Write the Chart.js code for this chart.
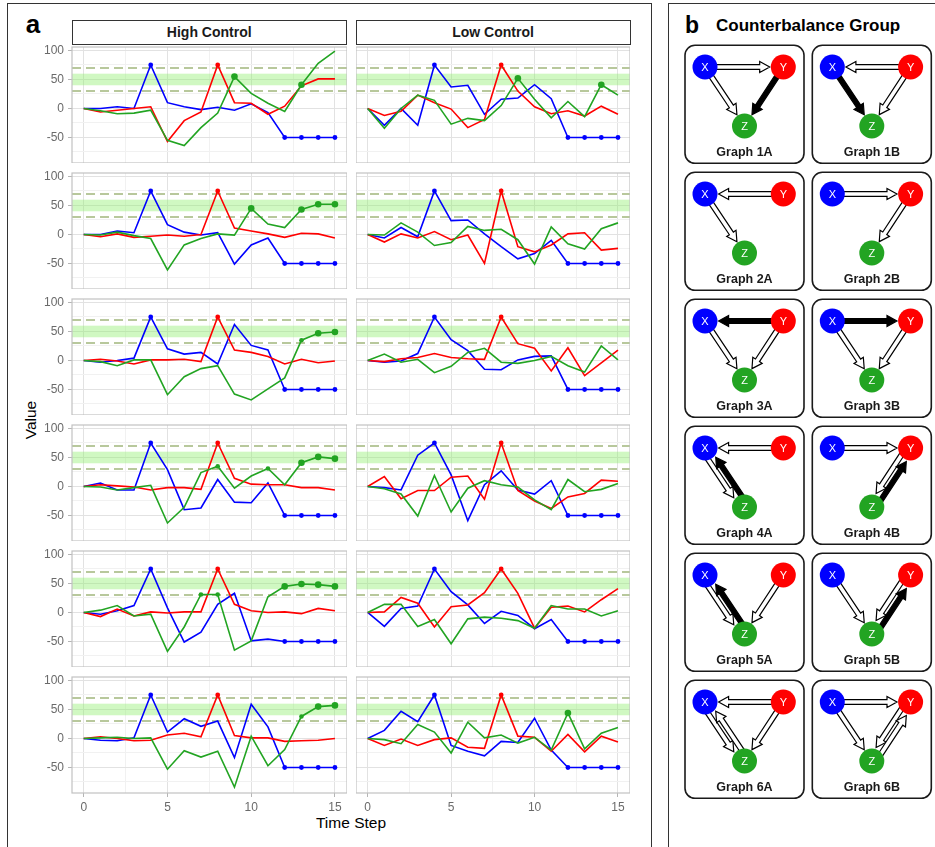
<!DOCTYPE html>
<html><head><meta charset="utf-8">
<script src="https://cdn.jsdelivr.net/npm/chart.js@4.4.1/dist/chart.umd.min.js"></script>
<style>
html,body{margin:0;padding:0;background:#fff;}
body{width:935px;height:847px;overflow:hidden;position:relative;font-family:'Liberation Sans',Arial,Helvetica,sans-serif;}
.box{position:absolute;border:1.6px solid #333;box-sizing:border-box;}
.strip{position:absolute;border:1px solid #333;box-sizing:border-box;background:#fff;font-weight:bold;font-size:14px;text-align:center;line-height:23px;color:#1a1a1a;}
.txt{position:absolute;white-space:nowrap;color:#000;}
canvas{position:absolute;}
</style></head>
<body>
<div class="box" style="left:7px;top:2.5px;width:645px;height:900px;"></div>
<div class="box" style="left:667.5px;top:2.5px;width:300px;height:900px;"></div>
<div class="txt" style="left:25.7px;top:11.3px;font-size:26px;line-height:26px;font-weight:bold;">a</div>
<div class="txt" style="left:685px;top:13.8px;font-size:23px;line-height:23px;font-weight:bold;">b</div>
<div class="txt" style="left:716px;top:16.6px;font-size:17px;line-height:17px;font-weight:bold;">Counterbalance Group</div>
<div class="strip" style="left:71.5px;top:19.5px;width:275.5px;height:25px;">High Control</div>
<div class="strip" style="left:355.5px;top:19.5px;width:275px;height:25px;">Low Control</div>
<div class="txt" style="left:-19px;top:410px;width:100px;height:20px;line-height:20px;text-align:center;font-size:15.5px;transform:rotate(-90deg);">Value</div>
<div class="txt" style="left:251px;top:813.9px;width:200px;line-height:18px;text-align:center;font-size:15.5px;">Time Step</div>
<script>
// ---------------- data ----------------
const steps = [0,1,2,3,4,5,6,7,8,9,10,11,12,13,14,15];
const conditions = ['High Control','Low Control'];
const yTickValues = [-75,-50,-25,0,25,50,75,100];
const xTickValues = [0,2.5,5,7.5,10,12.5,15];
const bandRange = [40,60];
const dashLevels = [30,70];

// High Control (rows 1-6): X = blue, Y = red, Z = green
const hc1_X = [0,0,3,0,75,10,3,-2,2,-3,8,-7,-50,-50,-50,-50];
const hc1_Y = [0,-6,-3,0,3,-57,-21,-6,75,10,9,-10,4,39,51,51];
const hc1_Z = [0,-4,-9,-8,-3,-55,-64,-33,-8,55,26,9,-5,41,78,99];
const hc2_X = [0,0,6,3,75,17,4,-1,3,-51,-18,-6,-50,-50,-50,-50];
const hc2_Y = [0,-4,1,-5,-3,-1,-3,0,75,11,6,1,-5,2,1,-6];
const hc2_Z = [0,-1,4,-2,-7,-61,-18,-7,1,-1,45,18,12,43,52,52];
const hc3_X = [0,-3,0,4,75,20,11,14,-6,62,26,18,-50,-50,-50,-50];
const hc3_Y = [0,2,-1,-6,1,1,2,-2,75,18,14,7,-6,2,-4,-1];
const hc3_Z = [0,-2,-9,1,1,-59,-28,-14,-9,-58,-68,-49,-30,35,47,49];
const hc4_X = [0,6,-6,-6,75,29,-40,-37,12,-27,-28,6,-50,-50,-50,-50];
const hc4_Y = [0,3,1,-1,-6,-2,-2,-5,75,14,4,3,3,-2,-2,-6];
const hc4_Z = [0,-1,-6,-2,2,-63,-36,24,35,-3,18,31,3,41,51,48];
const hc5_X = [0,-3,3,12,75,8,-51,-34,14,33,-49,-46,-50,-50,-50,-50];
const hc5_Y = [0,-7,6,-6,1,-1,1,1,75,14,3,0,1,-2,7,3];
const hc5_Z = [0,4,12,-6,-3,-67,-25,31,31,-65,-49,27,45,49,48,45];
const hc6_X = [0,-3,-4,1,75,11,34,21,30,-33,59,20,-50,-50,-50,-50];
const hc6_Y = [0,3,0,-4,-3,6,9,3,75,5,1,1,-5,-4,-3,0];
const hc6_Z = [0,1,2,0,1,-53,-21,-32,-22,-84,4,-47,-19,38,55,57];

// Low Control (rows 1-6)
const lc1_X = [0,-29,0,-29,75,37,40,-10,16,18,41,17,-50,-50,-50,-50];
const lc1_Y = [0,-12,-5,23,10,-1,-33,-19,75,30,3,-9,-4,-13,4,-10];
const lc1_Z = [0,-34,0,23,14,-27,-17,-21,5,52,16,-16,12,-14,41,23];
const lc2_X = [0,-6,12,-4,75,24,25,1,-21,-42,-33,-10,-50,-50,-50,-50];
const lc2_Y = [0,-13,1,-6,5,-9,-1,-50,75,-21,-30,-18,1,3,-27,-24];
const lc2_Z = [0,-1,20,4,-19,-14,14,7,9,-9,-51,13,-16,-25,10,20];
const lc3_X = [0,-3,-1,12,75,36,17,-15,-16,1,7,8,-50,-50,-50,-50];
const lc3_Y = [0,-2,3,5,12,5,3,2,75,29,21,-18,22,-26,-4,18];
const lc3_Z = [0,11,-3,2,-21,-10,14,21,-3,-5,0,7,-9,-20,25,1];
const lc4_X = [0,-2,-6,54,75,20,-59,3,27,-6,-13,10,-50,-50,-50,-50];
const lc4_Y = [0,17,-21,-7,-7,16,18,-22,75,-7,-25,-38,-18,-12,11,9];
const lc4_Z = [0,-4,-13,-51,19,-44,-3,10,3,-1,-23,-40,12,-9,-5,5];
const lc5_X = [0,-24,7,11,75,36,13,-19,2,-5,-28,-12,-50,-50,-50,-50];
const lc5_Y = [0,1,26,16,-25,10,13,34,75,33,-27,9,11,1,22,41];
const lc5_Z = [0,14,14,-24,-12,-54,-11,-8,-10,-14,-27,12,6,6,-6,3];
const lc6_X = [0,14,47,29,75,-12,-22,-30,-5,-7,35,-20,-50,-50,-50,-50];
const lc6_Y = [0,-12,-1,-12,-2,1,-15,-17,75,4,2,-22,7,-23,4,-6];
const lc6_Z = [0,-2,-9,24,11,-25,28,1,6,-8,2,-20,44,-18,9,19];

// Panel b: counterbalance graphs  [from, to, kind]  kind: 'o' = open arrow, 's' = solid arrow
const graphNames = ['Graph 1A','Graph 1B','Graph 2A','Graph 2B','Graph 3A','Graph 3B',
                    'Graph 4A','Graph 4B','Graph 5A','Graph 5B','Graph 6A','Graph 6B'];
const graphEdges = [
  [['X','Y','o'],['X','Z','o'],['Y','Z','s']],
  [['Y','X','o'],['X','Z','s'],['Y','Z','o']],
  [['Y','X','o'],['X','Z','o']],
  [['X','Y','o'],['Y','Z','o']],
  [['Y','X','s'],['X','Z','o'],['Y','Z','o']],
  [['X','Y','s'],['X','Z','o'],['Y','Z','o']],
  [['Y','X','o'],['X','Z','o'],['Z','X','s']],
  [['X','Y','o'],['Y','Z','o'],['Z','Y','s']],
  [['X','Z','o'],['Z','X','s'],['Y','Z','o']],
  [['X','Z','o'],['Y','Z','o'],['Z','Y','s']],
  [['Y','X','o'],['X','Z','o'],['Z','X','o'],['Y','Z','o']],
  [['X','Y','o'],['X','Z','o'],['Y','Z','o'],['Z','Y','o']]
];
const nodeNames = ['X','Y','Z'];

// ---------------- styling / layout ----------------
Chart.defaults.font.family = "'Liberation Sans', Arial, Helvetica, sans-serif";
const COL = {X:'#0000ff', Y:'#ff0000', Z:'#22a422'};
const NODECOL = {X:'#0000ff', Y:'#ff0000', Z:'#22a422'};
const majorGrid = '#e2e2e2', minorGrid = '#f1f1f1', tickCol = '#b5b5b5', frameCol = '#c2c2c2';

const panels = [
  [hc1_X,hc1_Y,hc1_Z],[hc2_X,hc2_Y,hc2_Z],[hc3_X,hc3_Y,hc3_Z],[hc4_X,hc4_Y,hc4_Z],[hc5_X,hc5_Y,hc5_Z],[hc6_X,hc6_Y,hc6_Z],
  [lc1_X,lc1_Y,lc1_Z],[lc2_X,lc2_Y,lc2_Z],[lc3_X,lc3_Y,lc3_Z],[lc4_X,lc4_Y,lc4_Z],[lc5_X,lc5_Y,lc5_Z],[lc6_X,lc6_Y,lc6_Z]
];

const panelDeco = {
  id: 'panelDeco',
  beforeDatasetsDraw(chart) {
    const {ctx, chartArea: a, scales: {y}} = chart;
    ctx.save();
    ctx.beginPath(); ctx.rect(a.left, a.top, a.width, a.height); ctx.clip();
    const y1 = y.getPixelForValue(bandRange[1]), y0 = y.getPixelForValue(bandRange[0]);
    ctx.fillStyle = 'rgba(144,238,110,0.42)';
    ctx.fillRect(a.left, y1, a.width, y0 - y1);
    ctx.strokeStyle = 'rgba(125,155,75,0.55)';
    ctx.lineWidth = 2;
    ctx.setLineDash([9, 5]);
    dashLevels.forEach(v => {
      const py = y.getPixelForValue(v);
      ctx.beginPath(); ctx.moveTo(a.left, py); ctx.lineTo(a.right, py); ctx.stroke();
    });
    ctx.restore();
  },
  afterDraw(chart) {
    const {ctx, chartArea: a} = chart;
    ctx.save();
    ctx.strokeStyle = frameCol; ctx.lineWidth = 1.2;
    ctx.strokeRect(a.left, a.top, a.width, a.height);
    ctx.restore();
  }
};

function rX(c) { const i = c.dataIndex; return (i === 4 || i >= 12) ? 2.4 : 0; }
function rY(c) { return c.dataIndex === 8 ? 2.4 : 0; }
function rZ(c) { const v = c.raw ? c.raw.y : 0; return (v >= 40 && v <= 60) ? 3.3 : ((v >= 30 && v <= 70) ? 2.3 : 0); }

function series(label, vals, color, rf) {
  return {
    label, data: steps.map((s, i) => ({x: s, y: vals[i]})),
    borderColor: color, backgroundColor: color, borderWidth: 1.6,
    pointRadius: rf, pointHoverRadius: rf, pointBorderWidth: 0, tension: 0
  };
}

const PADTOP = 8;
panels.forEach((p, k) => {
  const col = k < 6 ? 0 : 1, row = k % 6;
  const left = col === 0, bottom = row === 5;
  const cv = document.createElement('canvas');
  const cl = left ? 22 : 356, cw = left ? 325 : 274;
  const top = 47 + row * 126 - PADTOP;
  const ch = 116 + PADTOP + (bottom ? 26 : 0);
  cv.width = cw; cv.height = ch;
  cv.style.left = cl + 'px'; cv.style.top = top + 'px';
  cv.style.width = cw + 'px'; cv.style.height = ch + 'px';
  document.body.appendChild(cv);
  const isMajorX = c => c.tick && Math.abs(c.tick.value % 5) < 1e-9;
  const isMajorY = c => c.tick && Math.abs(c.tick.value % 50) < 1e-9;
  new Chart(cv, {
    type: 'line',
    data: { datasets: [
      series('Z', p[2], COL.Z, rZ),
      series('Y', p[1], COL.Y, rY),
      series('X', p[0], COL.X, rX)
    ]},
    options: {
      responsive: false, animation: false, devicePixelRatio: 1, events: [],
      layout: {padding: {top: PADTOP, left: 0, right: 0, bottom: 0}, autoPadding: false},
      plugins: {legend: {display: false}, tooltip: {enabled: false}, title: {display: false}},
      scales: {
        x: {
          type: 'linear', min: -0.7, max: 15.72,
          afterBuildTicks: s => { s.ticks = xTickValues.map(v => ({value: v})); },
          ticks: {display: bottom, autoSkip: false, maxRotation: 0, padding: 3, color: '#6a6a6a', font: {size: 12},
                  callback: v => (Math.abs(v % 5) < 1e-9 ? String(v) : '')},
          grid: {color: c => isMajorX(c) ? majorGrid : minorGrid, lineWidth: 1, drawTicks: bottom, tickLength: 4,
                 tickColor: c => isMajorX(c) ? tickCol : 'rgba(0,0,0,0)'},
          border: {display: false},
          afterFit: s => { s.paddingLeft = s.paddingRight = s.paddingTop = s.paddingBottom = 0; s.height = bottom ? 26 : 0; }
        },
        y: {
          type: 'linear', min: -94, max: 106,
          afterBuildTicks: s => { s.ticks = yTickValues.map(v => ({value: v})); },
          ticks: {display: left, autoSkip: false, padding: 4, color: '#6a6a6a', font: {size: 12},
                  callback: v => (Math.abs(v % 50) < 1e-9 ? String(v) : '')},
          grid: {color: c => isMajorY(c) ? majorGrid : minorGrid, lineWidth: 1, drawTicks: left, tickLength: 4,
                 tickColor: c => isMajorY(c) ? tickCol : 'rgba(0,0,0,0)'},
          border: {display: false},
          afterFit: s => { s.paddingLeft = s.paddingRight = s.paddingTop = s.paddingBottom = 0; s.width = left ? 50 : 0; }
        }
      }
    },
    plugins: [panelDeco]
  });
});

// ---------------- panel b ----------------
const cardLay = {lefts: [17, 144.3], top0: 45.3, dy: 127, w: 119, h: 118, r: 10};
const nodeOff = {X: [20, 21.7], Y: [98.3, 21.7], Z: [59.5, 80.7]};
const cardPos = i => ({x: cardLay.lefts[i % 2], y: cardLay.top0 + Math.floor(i / 2) * cardLay.dy});

const bCanvas = document.createElement('canvas');
bCanvas.width = 267; bCanvas.height = 847;
bCanvas.style.left = '668px'; bCanvas.style.top = '0px';
bCanvas.style.width = '267px'; bCanvas.style.height = '847px';
document.body.appendChild(bCanvas);

function drawArrow(ctx, x1, y1, x2, y2, solid, off) {
  const dx = x2 - x1, dy = y2 - y1, L = Math.hypot(dx, dy);
  const ux = dx / L, uy = dy / L, nx = -uy, ny = ux;
  const r0 = 9, r1 = 13.6, hl = 10, hw = 5.6, sw = 2.4;
  const sx = x1 + ux * r0 + nx * off, sy = y1 + uy * r0 + ny * off;
  const ex = x2 - ux * r1 + nx * off, ey = y2 - uy * r1 + ny * off;
  const bx = ex - ux * hl, by = ey - uy * hl;
  ctx.beginPath();
  ctx.moveTo(sx + nx * sw, sy + ny * sw);
  ctx.lineTo(bx + nx * sw, by + ny * sw);
  ctx.lineTo(bx + nx * hw, by + ny * hw);
  ctx.lineTo(ex, ey);
  ctx.lineTo(bx - nx * hw, by - ny * hw);
  ctx.lineTo(bx - nx * sw, by - ny * sw);
  ctx.lineTo(sx - nx * sw, sy - ny * sw);
  ctx.closePath();
  ctx.fillStyle = solid ? '#000' : '#fff';
  ctx.fill();
  ctx.lineWidth = 1.2; ctx.lineJoin = 'miter'; ctx.strokeStyle = '#000';
  ctx.stroke();
}

const graphDeco = {
  id: 'graphDeco',
  beforeDatasetsDraw(chart) {
    const {ctx, scales: {x, y}} = chart;
    ctx.save();
    graphNames.forEach((name, i) => {
      const c = cardPos(i);
      const L = x.getPixelForValue(c.x), T = y.getPixelForValue(c.y);
      const R = x.getPixelForValue(c.x + cardLay.w), B = y.getPixelForValue(c.y + cardLay.h);
      ctx.beginPath();
      ctx.roundRect(L, T, R - L, B - T, cardLay.r);
      ctx.fillStyle = '#fff'; ctx.fill();
      ctx.lineWidth = 1.6; ctx.strokeStyle = '#1a1a1a'; ctx.stroke();
      ctx.fillStyle = '#1a1a1a';
      ctx.font = "bold 12.5px 'Liberation Sans', Arial, sans-serif";
      ctx.textAlign = 'center'; ctx.textBaseline = 'middle';
      ctx.fillText(name, x.getPixelForValue(c.x + cardLay.w / 2), y.getPixelForValue(c.y + 107));
      const edges = graphEdges[i];
      edges.forEach(([f, t, kind]) => {
        const hasRev = edges.some(e => e[0] === t && e[1] === f);
        const pf = chart.getDatasetMeta(nodeNames.indexOf(f)).data[i];
        const pt = chart.getDatasetMeta(nodeNames.indexOf(t)).data[i];
        drawArrow(ctx, pf.x, pf.y, pt.x, pt.y, kind === 's', hasRev ? 3.8 : 0);
      });
    });
    ctx.restore();
  },
  afterDatasetsDraw(chart) {
    const {ctx} = chart;
    ctx.save();
    ctx.fillStyle = '#fff';
    ctx.font = "11px 'Liberation Sans', Arial, sans-serif";
    ctx.textAlign = 'center'; ctx.textBaseline = 'middle';
    nodeNames.forEach((n, d) => {
      chart.getDatasetMeta(d).data.forEach(pt => ctx.fillText(n, pt.x, pt.y + 0.5));
    });
    ctx.restore();
  }
};

new Chart(bCanvas, {
  type: 'scatter',
  data: { datasets: nodeNames.map(n => ({
    label: n,
    data: graphNames.map((g, i) => { const c = cardPos(i); return {x: c.x + nodeOff[n][0], y: c.y + nodeOff[n][1]}; }),
    backgroundColor: NODECOL[n], borderWidth: 0, pointRadius: 12.5, pointHoverRadius: 12.5
  }))},
  options: {
    responsive: false, animation: false, devicePixelRatio: 1, events: [],
    layout: {padding: 0, autoPadding: false},
    plugins: {legend: {display: false}, tooltip: {enabled: false}},
    scales: {
      x: {type: 'linear', min: 0, max: 267, display: false},
      y: {type: 'linear', min: 0, max: 847, reverse: true, display: false}
    }
  },
  plugins: [graphDeco]
});
</script>
</body></html>
